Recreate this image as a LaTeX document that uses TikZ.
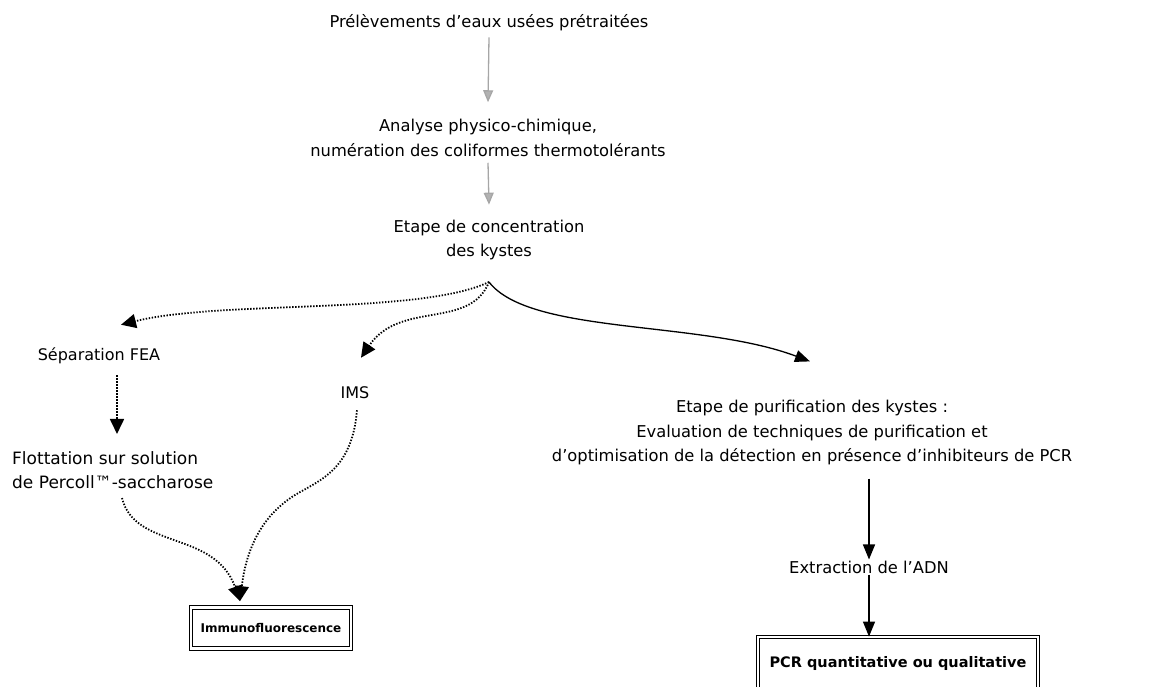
\documentclass[tikz,border=0pt]{standalone}
\usepackage{fontspec}
\setmainfont{DejaVu Sans}
\usetikzlibrary{arrows.meta,calc}
\tikzset{
  txt/.style={inner sep=1pt, font=\fontsize{16.3}{24.5}\selectfont, align=center},
  smalltxt/.style={inner sep=1pt, font=\fontsize{16}{24.5}\selectfont, align=center},
  grayarrow/.style={draw=gray!70, line width=1.3pt, -{Triangle[length=12pt,width=10pt,fill=gray!60]}},
  dotarrow/.style={line width=1.8pt, dash pattern=on 1.4pt off 1.6pt, -{Triangle[length=15pt,width=14pt,sep=0pt]}},
  solidarrow/.style={line width=1.3pt, -{Triangle[length=15pt,width=12pt]}},
  result/.style={draw, line width=0.8pt, double, double distance=2.5pt, inner sep=0pt,
    font=\bfseries\fontsize{14.5}{16}\selectfont}
}
\begin{document}
\begin{tikzpicture}[x=1pt,y=-1pt]
\useasboundingbox (0,0) rectangle (1160,687);
\clip (0,0) rectangle (1160,687);

\node[txt] (t1) at (489,23) {Prélèvements d'eaux usées prétraitées};
\node[txt] (t2) at (488,138) {Analyse physico-chimique,\\numération des coliformes thermotolérants};
\node[txt] (t3) at (489,240) {Etape de concentration\\des kystes};
\coordinate (apex) at (489,282);

\node[smalltxt] (sep) at (99,356) {Séparation FEA};
\node[smalltxt] (ims) at (355,393) {IMS};
\node[txt, font=\fontsize{17}{24.5}\selectfont, align=left, anchor=west] (flot) at (11,470) {Flottation sur solution\\de Percoll™-saccharose};

\node[result, minimum width=160pt, minimum height=41pt, font=\bfseries\fontsize{12}{14}\selectfont] (immuno) at (271,628) {Immunofluorescence};

\node[txt] (purif) at (812,433) {Etape de purification des kystes :\\Evaluation de techniques de purification et\\d'optimisation de la détection en présence d'inhibiteurs de PCR};
\node[txt] (adn) at (869,567) {Extraction de l'ADN};
\node[result, minimum width=280pt, minimum height=52pt] (pcr) at (898,663) {PCR quantitative ou qualitative};

% top gray arrows
\draw[grayarrow] ($(t1.south)+(0,5)$) -- ($(t2.north)+(0,-16)$);
\draw[grayarrow] ($(t2.south)+(0,5)$) -- ($(t3.north)+(0,-14)$);

% branches from apex
\draw[dotarrow] (apex) .. controls (420,315) and (220,300) .. ($(sep.north)+(22,-22)$);
\draw[dotarrow] (apex) .. controls (470,330) and (400,300) .. ($(ims.north)+(6,-28)$);
\draw[solidarrow] (apex) .. controls (530,335) and (700,320) .. ($(purif.north)+(-2,-38)$);

% left chain
\draw[dotarrow] ($(sep.south)+(18,10)$) -- ($(flot.north west)+(106,-16)$);
\draw[dotarrow] ($(flot.south west)+(111,8)$) .. controls (135,550) and (215,530) .. ($(immuno.north)+(-31,-6)$);
\draw[dotarrow] ($(ims.south)+(2,10)$) .. controls (352,470) and (320,480) .. (295,495) .. controls (255,520) and (245,560) .. ($(immuno.north)+(-31,-6)$);

% right chain
\draw[solidarrow] (purif.south -| adn) ++(0,12) -- (adn.north);
\draw[solidarrow] (adn.south) -- (adn.south |- pcr.north);
\end{tikzpicture}
\end{document}
